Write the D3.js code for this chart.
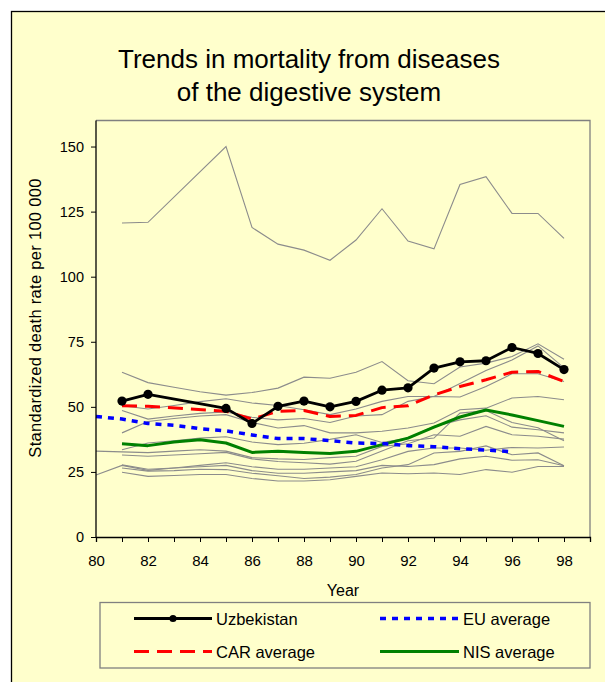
<!DOCTYPE html>
<html><head><meta charset="utf-8">
<script src="https://cdn.jsdelivr.net/npm/d3@7/dist/d3.min.js"></script>
<style>
body{margin:0;background:#fff}
svg{display:block;font-family:"Liberation Sans",Arial,Helvetica,sans-serif}
</style>
</head><body>
<svg id="c" width="605" height="682"></svg>
<script>
// ---- data ----
const years = [80,81,82,83,84,85,86,87,88,89,90,91,92,93,94,95,96,97,98];
const xTickLabels = [80,82,84,86,88,90,92,94,96,98];
const yTickLabels = [0,25,50,75,100,125,150];

const uzbekistan = [null,52.2,54.8,null,null,49.4,43.6,50.2,52.2,50.0,52.1,56.4,57.3,64.9,67.3,67.7,72.8,70.5,64.3];
const carAverage = [null,50.4,50.2,null,null,48.3,45.3,48.3,48.6,46.3,46.7,49.7,50.4,54.6,57.8,60.4,63.3,63.6,59.7];
const euAverage  = [46.3,45.3,43.6,42.9,41.6,40.8,39.2,37.8,37.8,37.0,36.1,35.9,35.1,34.7,33.9,33.4,32.8,null,null];
const nisAverage = [null,35.8,35.1,36.5,37.4,36.1,32.5,32.9,32.5,32.1,32.9,35.5,38.0,42.2,46.1,48.8,46.9,44.7,42.5];

// other countries (thin grey lines)
const countries = [
  [null,120.6,120.9,null,null,150.0,118.9,112.5,110.2,106.3,114.1,126.1,113.7,110.7,135.4,138.4,124.3,124.3,114.7],
  [null,63.3,59.3,57.5,55.8,54.5,55.5,57.2,61.4,61.0,63.3,67.4,60.0,58.9,65.3,66.8,69.3,74.2,68.3],
  [null,50.4,49.2,50.5,52.0,53.1,51.5,50.5,48.9,47.0,49.2,52.1,54.0,54.0,59.0,64.0,68.0,73.4,65.0],
  [null,48.6,45.3,46.5,47.5,48.0,46.0,45.0,45.5,44.0,46.5,47.0,52.1,54.0,53.8,57.8,62.7,62.7,59.7],
  [null,40.0,44.4,45.5,46.5,47.0,44.0,41.9,42.8,40.0,40.0,40.6,41.9,43.8,48.9,49.5,53.4,54.0,52.7],
  [null,33.5,36.1,37.0,38.0,38.5,36.5,35.5,36.0,37.5,39.3,36.3,38.0,42.5,45.0,46.6,42.2,41.2,40.0],
  [33.0,32.7,32.4,33.0,33.5,33.0,30.5,30.0,29.8,30.5,31.0,34.8,35.8,39.3,38.7,42.5,39.3,38.7,37.6],
  [null,31.5,31.0,31.5,32.0,32.5,30.0,29.0,28.5,28.0,29.1,33.0,37.0,38.0,47.6,48.6,44.0,42.0,37.0],
  [23.8,27.5,25.6,26.5,27.5,28.5,27.0,26.0,26.0,26.5,27.0,29.7,32.9,34.2,34.2,33.3,34.4,34.2,34.6],
  [null,27.7,26.0,26.5,27.0,27.5,25.5,24.5,24.5,25.0,25.5,27.5,27.1,27.8,30.0,31.0,29.5,29.7,27.4],
  [null,26.5,25.3,25.5,26.0,25.9,24.5,23.5,22.5,23.0,24.0,26.5,27.8,32.3,32.9,35.0,31.6,32.3,27.4],
  [null,24.9,23.3,23.6,24.0,24.0,22.5,21.5,21.5,22.0,23.3,24.6,24.3,24.6,24.0,25.9,24.9,27.1,27.1]
];

const titleLines = ["Trends in mortality from diseases","of the digestive system"];
const yAxisTitle = "Standardized death rate per 100 000";
const xAxisTitle = "Year";

// ---- drawing ----
const svg = d3.select("#c");
const bg = "#FFFFCC";

svg.append("rect").attr("x",11.5).attr("y",11.5).attr("width",700).attr("height",800)
  .attr("fill",bg).attr("stroke","#000").attr("stroke-width",1.3);

const L = 96, R = 590, T = 120.5, B = 537;
const x = d3.scaleLinear().domain([80,99]).range([L,R]);
const y = d3.scaleLinear().domain([0,160]).range([B,T]);

// plot frame (top/right grey)
svg.append("path").attr("d",`M${L},${T}H${R}V${B}`).attr("fill","none")
  .attr("stroke","#808080").attr("stroke-width",1.3);

// title
svg.append("text").attr("x",309).attr("text-anchor","middle").attr("font-size",26).attr("fill","#000")
  .selectAll("tspan").data(titleLines).join("tspan")
  .attr("x",309).attr("y",(d,i)=>68+i*33).text(d=>d);

const toPts = arr => years.map((yr,i)=>({yr,v:arr[i]})).filter(d=>d.v!=null);
const line = d3.line().x(d=>x(d.yr)).y(d=>y(d.v));

// grey countries
svg.append("g").selectAll("path").data(countries).join("path")
  .attr("d",d=>line(toPts(d))).attr("fill","none").attr("stroke","#8c8c8c").attr("stroke-width",1.1);

const series = [
  {name:"NIS average", data:nisAverage, color:"#008000", dash:null, w:3},
  {name:"EU average", data:euAverage, color:"#0000FF", dash:"6,6", w:3.5},
  {name:"CAR average", data:carAverage, color:"#FF0000", dash:"15,8", w:3},
  {name:"Uzbekistan", data:uzbekistan, color:"#000000", dash:null, w:2.8, marker:true}
];

series.forEach(s=>{
  svg.append("path").attr("d",line(toPts(s.data))).attr("fill","none")
    .attr("stroke",s.color).attr("stroke-width",s.w)
    .attr("stroke-dasharray",s.dash).attr("stroke-linejoin","round");
  if(s.marker){
    svg.append("g").selectAll("circle").data(toPts(s.data)).join("circle")
      .attr("cx",d=>x(d.yr)).attr("cy",d=>y(d.v)).attr("r",4.6).attr("fill",s.color);
  }
});

// axes
const xAxis = d3.axisBottom(x).tickValues(d3.range(80,100)).tickSize(5)
  .tickFormat(d=> xTickLabels.includes(d) ? d : "");
const gx = svg.append("g").attr("transform",`translate(0,${B})`).call(xAxis);
gx.select(".domain").attr("stroke","#000").attr("stroke-width",1.3);
gx.selectAll(".tick line").attr("stroke","#000");
gx.selectAll("text").attr("font-size",15).attr("fill","#000").attr("dy","1.4em").attr("font-family","inherit");

const yAxis = d3.axisLeft(y).tickValues(yTickLabels).tickSize(5).tickPadding(7);
const gy = svg.append("g").attr("transform",`translate(${L},0)`).call(yAxis);
gy.select(".domain").attr("stroke","#000").attr("stroke-width",1.3).attr("d",`M-0,${T}V${B}`);
gy.selectAll(".tick line").attr("stroke","#000");
gy.selectAll("text").attr("font-size",14.5).attr("fill","#000").attr("font-family","inherit");

svg.append("text").attr("x",343).attr("y",596).attr("text-anchor","middle")
  .attr("font-size",16).attr("fill","#000").text(xAxisTitle);
svg.append("text").attr("transform","translate(41,318) rotate(-90)").attr("text-anchor","middle")
  .attr("font-size",16.5).attr("letter-spacing",0.3).attr("fill","#000").text(yAxisTitle);

// legend
svg.append("rect").attr("x",100).attr("y",602.5).attr("width",490).attr("height",65.5)
  .attr("fill",bg).attr("stroke","#808080").attr("stroke-width",1.3);
const legendOrder = ["Uzbekistan","EU average","CAR average","NIS average"];
legendOrder.forEach((n,i)=>{
  const s = series.find(q=>q.name===n);
  const col = i%2, row = Math.floor(i/2);
  const x0 = col===0 ? 134 : 380, x1 = col===0 ? 212 : 459, yy = 618.5 + row*33;
  svg.append("line").attr("x1",x0).attr("x2",x1).attr("y1",yy).attr("y2",yy)
    .attr("stroke",s.color).attr("stroke-width",s.w).attr("stroke-dasharray",s.dash);
  if(s.marker) svg.append("circle").attr("cx",(x0+x1)/2).attr("cy",yy).attr("r",3.6).attr("fill",s.color);
  svg.append("text").attr("x",x1+4).attr("y",yy+6).attr("font-size",16.5).attr("fill","#000").text(n);
});
</script>
</body></html>
